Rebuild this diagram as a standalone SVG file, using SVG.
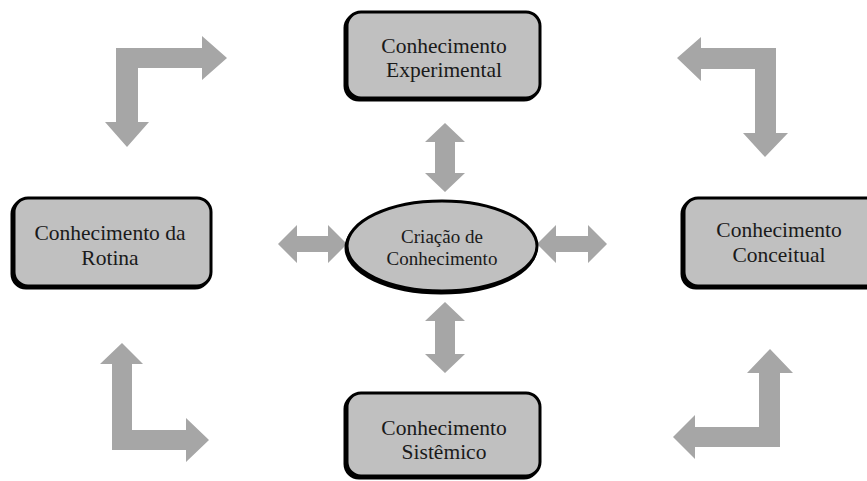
<svg xmlns="http://www.w3.org/2000/svg" width="867" height="481" viewBox="0 0 867 481">
  <style>
    .box { fill: #c0c0c0; stroke: #000; stroke-width: 3; }
    .shadow { fill: #000; stroke: #000; stroke-width: 3; }
    .lbl { font-family: "Liberation Serif", "Times New Roman", serif; font-size: 21.5px; fill: #1a1a1a; text-anchor: middle; }
    .small { font-size: 19px; }
    .arw { fill: #a6a6a6; }
  </style>
  <rect width="867" height="481" fill="#fff"/>

  <g id="connectors">
    <!-- double arrows around the centre -->
    <polygon class="arw" points="278,244 297,225 297,236 328,236 328,225 347,244 328,263 328,252 297,252 297,263"/>
    <polygon class="arw" points="537,244 556,225 556,236 588,236 588,225 607,244 588,263 588,252 556,252 556,263"/>
    <polygon class="arw" points="445,123 465,142 455,142 455,173 465,173 445,192 425,173 435,173 435,142 425,142"/>
    <polygon class="arw" points="445,302 465,321 455,321 455,354 465,354 445,373 425,354 435,354 435,321 425,321"/>
    <!-- corner arrows -->
    <polygon class="arw" points="116,48 202,48 202,36 227,58 202,80 202,68 138,68 138,122 149,122 127,147 105,122 116,122"/>
    <polygon class="arw" points="776,48 701,48 701,37 677,58 701,81 701,69 755,69 755,133 743,133 765,157 788,133 776,133"/>
    <polygon class="arw" points="112,450 186,450 186,462 209,440 186,418 186,430 132,430 132,364 143,364 122,343 100,364 112,364"/>
    <polygon class="arw" points="780,447 695,447 695,459 673,437 695,415 695,427 759,427 759,373 747,373 770,349 793,373 780,373"/>
  </g>

  <g id="experimental">
    <rect class="shadow" x="345" y="14" width="193" height="86" rx="14"/>
    <rect class="box" x="347" y="12" width="193" height="86" rx="14"/>
    <text class="lbl" x="444" y="53">Conhecimento</text>
    <text class="lbl" x="444" y="77">Experimental</text>
  </g>
  <g id="rotina">
    <rect class="shadow" x="12" y="200" width="197" height="88" rx="14"/>
    <rect class="box" x="14" y="198" width="197" height="88" rx="14"/>
    <text class="lbl" x="110" y="240">Conhecimento da</text>
    <text class="lbl" x="110" y="265">Rotina</text>
  </g>
  <g id="conceitual">
    <rect class="shadow" x="682" y="200" width="197" height="88" rx="14"/>
    <rect class="box" x="684" y="198" width="197" height="88" rx="14"/>
    <text class="lbl" x="779" y="237">Conhecimento</text>
    <text class="lbl" x="779" y="262">Conceitual</text>
  </g>
  <g id="sistemico">
    <rect class="shadow" x="345" y="395" width="193" height="83" rx="14"/>
    <rect class="box" x="347" y="393" width="193" height="83" rx="14"/>
    <text class="lbl" x="444" y="435">Conhecimento</text>
    <text class="lbl" x="444" y="459">Sistêmico</text>
  </g>
  <g id="criacao">
    <ellipse class="shadow" cx="441" cy="248" rx="95" ry="45"/>
    <ellipse class="box" cx="442" cy="246" rx="95" ry="45"/>
    <text class="lbl small" x="442" y="243">Criação de</text>
    <text class="lbl small" x="442" y="265">Conhecimento</text>
  </g>
</svg>
